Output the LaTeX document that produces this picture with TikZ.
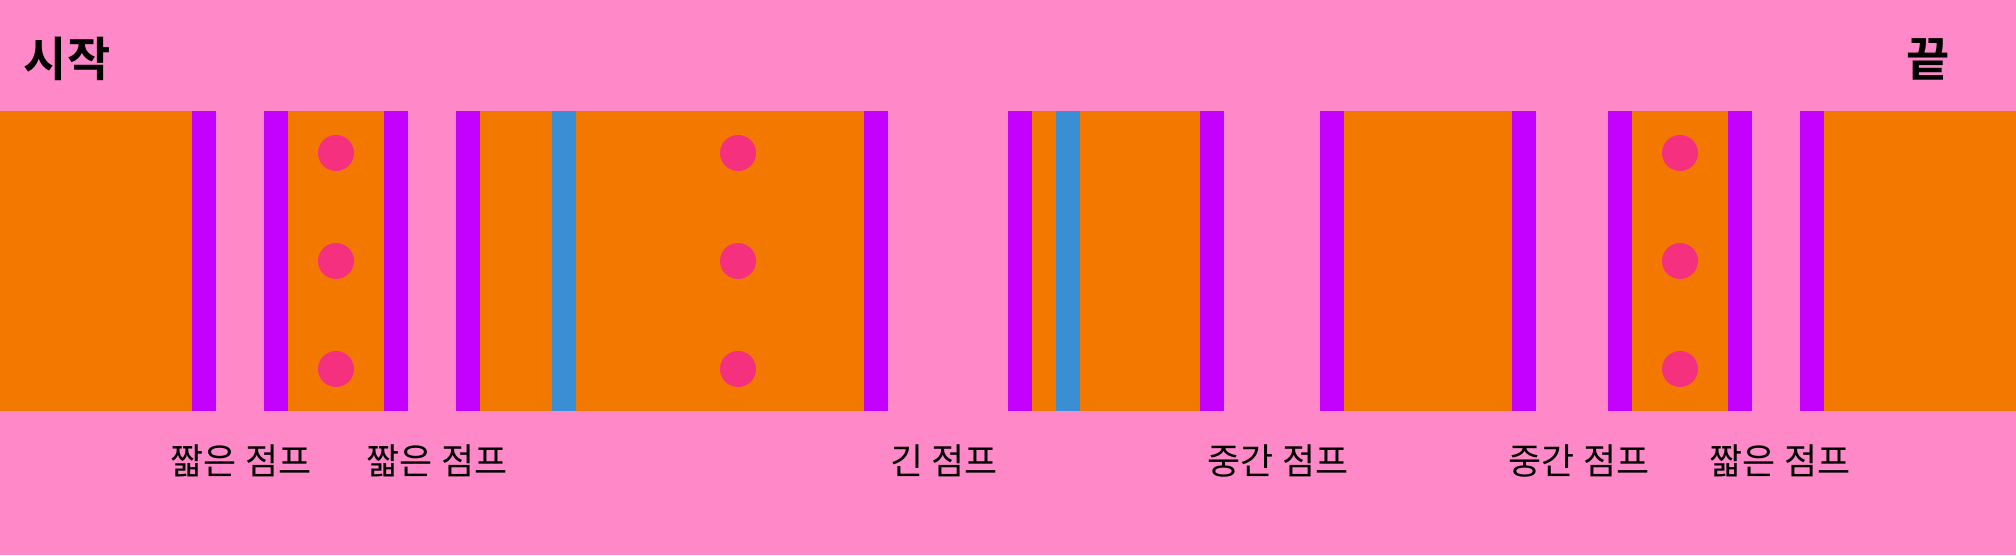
\documentclass[tikz,border=0pt]{standalone}
\usepackage{fontspec}
\setmainfont{Noto Sans CJK KR}[BoldFont={Noto Sans CJK KR Bold}]
\definecolor{bgpink}{HTML}{FF89C8}
\definecolor{band}{HTML}{F27800}
\definecolor{post}{HTML}{C400FF}
\definecolor{water}{HTML}{3A8FD4}
\definecolor{dotc}{HTML}{F5317F}
\tikzset{
  orangebox/.style={fill=band},
  postbar/.style={fill=post},
  bluebar/.style={fill=water},
  dotmark/.style={fill=dotc},
  jumplabel/.style={font=\fontsize{36}{40}\selectfont, anchor=base, inner sep=0pt, text=black},
  titlelabel/.style={font=\bfseries\fontsize{47}{52}\selectfont, anchor=base, inner sep=0pt, text=black}
}
\begin{document}
\begin{tikzpicture}[x=1pt,y=-1pt]
\fill[bgpink] (0,0) rectangle (2016,555);
\useasboundingbox (0,0) rectangle (2016,555);
% orange sections
\foreach \a/\b in {0/192, 288/384, 480/864, 1032/1200, 1344/1512, 1632/1728, 1824/2016}
  \fill[orangebox] (\a,111) rectangle (\b,411);
% purple posts
\foreach \a in {192, 264, 384, 456, 864, 1008, 1200, 1320, 1512, 1608, 1728, 1800}
  \fill[postbar] (\a,111) rectangle (\a+24,411);
% blue stripes
\foreach \a in {552, 1056}
  \fill[bluebar] (\a,111) rectangle (\a+24,411);
% dots
\foreach \x in {336, 738, 1680}
  \foreach \y in {153, 261, 369}
    \fill[dotmark] (\x,\y) circle[radius=18];
% titles
\node[titlelabel] (start) at (67,76) {시작};
\node[titlelabel] (end) at (1928,76) {끝};
% labels
\node[jumplabel] (j1) at (241,474) {짧은 점프};
\node[jumplabel] (j2) at (437,474) {짧은 점프};
\node[jumplabel] (j3) at (944,474) {긴 점프};
\node[jumplabel] (j4) at (1278,474) {중간 점프};
\node[jumplabel] (j5) at (1579,474) {중간 점프};
\node[jumplabel] (j6) at (1780,474) {짧은 점프};
\end{tikzpicture}
\end{document}
